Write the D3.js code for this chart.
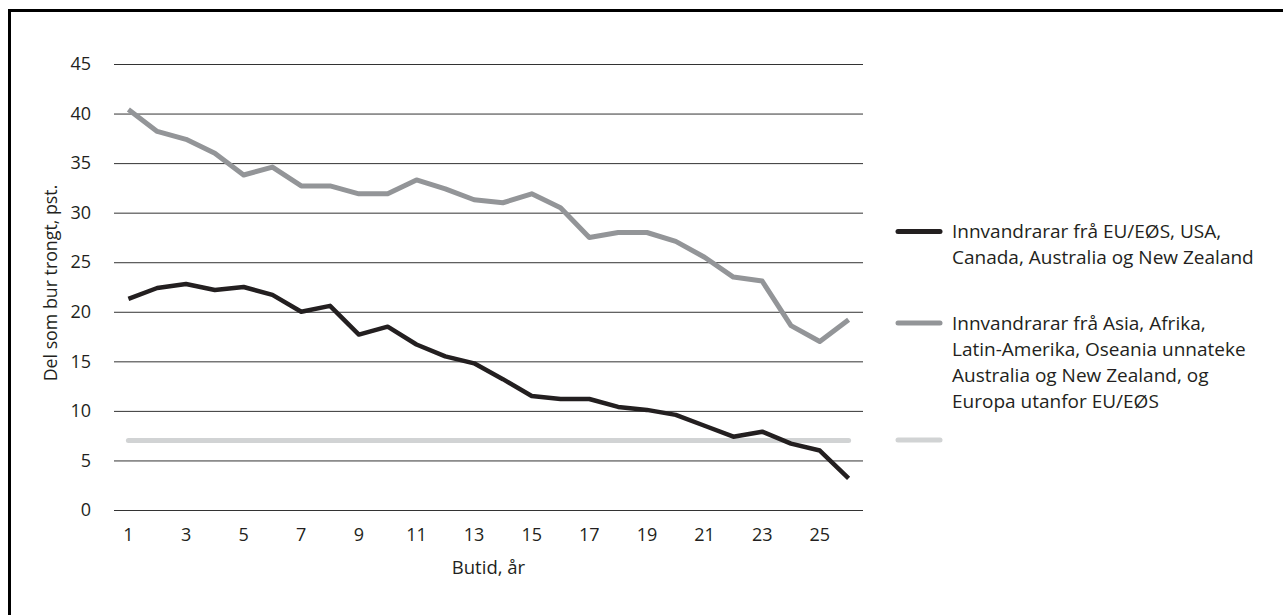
<!DOCTYPE html>
<html>
<head>
<meta charset="utf-8">
<script src="https://cdn.jsdelivr.net/npm/d3@7/dist/d3.min.js"></script>
<style>
  html, body { margin: 0; padding: 0; background: #fff; }
  svg { display: block; }
  text { font-family: "Open Sans", "Noto Sans", sans-serif; fill: #231f20; }
</style>
</head>
<body>
<svg id="chart" width="1283" height="615"></svg>
<script>
// ---- Data ----
const years = d3.range(1, 27); // Butid, år 1..26
const xTickLabels = [1, 3, 5, 7, 9, 11, 13, 15, 17, 19, 21, 23, 25];
const yTickLabels = [0, 5, 10, 15, 20, 25, 30, 35, 40, 45];

const seriesNames = [
  ["Innvandrarar frå EU/EØS, USA,", "Canada, Australia og New Zealand"],
  ["Innvandrarar frå Asia, Afrika,", "Latin-Amerika, Oseania unnateke", "Australia og New Zealand, og", "Europa utanfor EU/EØS"],
  []
];
const seriesColors = ["#231f20", "#939598", "#d1d3d4"];

const valuesEU = [21.3, 22.4, 22.8, 22.2, 22.5, 21.7, 20.0, 20.6, 17.7, 18.5,
                  16.7, 15.5, 14.8, 13.2, 11.5, 11.2, 11.2, 10.4, 10.1, 9.6,
                  8.5, 7.4, 7.9, 6.7, 6.0, 3.2];
const valuesAsia = [40.4, 38.2, 37.4, 36.0, 33.8, 34.6, 32.7, 32.7, 31.9, 31.9,
                    33.3, 32.4, 31.3, 31.0, 31.9, 30.5, 27.5, 28.0, 28.0, 27.1,
                    25.5, 23.5, 23.1, 18.6, 17.0, 19.2];
const valuesAll = [7.0, 7.0, 7.0, 7.0, 7.0, 7.0, 7.0, 7.0, 7.0, 7.0,
                   7.0, 7.0, 7.0, 7.0, 7.0, 7.0, 7.0, 7.0, 7.0, 7.0,
                   7.0, 7.0, 7.0, 7.0, 7.0, 7.0];

const allSeries = [valuesEU, valuesAsia, valuesAll];

// ---- Layout ----
const svg = d3.select("#chart");
const plot = { left: 114, right: 863, top: 64, bottom: 510 };

// Outer frame (cut off at right and bottom as in the reference)
svg.append("rect")
  .attr("x", 9.5).attr("y", 10.5)
  .attr("width", 1300).attr("height", 700)
  .attr("fill", "none").attr("stroke", "#000").attr("stroke-width", 3);

const x = d3.scaleBand().domain(years).range([plot.left, plot.right]);
const xc = d => x(d) + x.bandwidth() / 2;
const y = d3.scaleLinear().domain([0, 45]).range([plot.bottom, plot.top]);

// Gridlines + y labels
const yAxis = d3.axisLeft(y).tickValues(yTickLabels)
  .tickSize(-(plot.right - plot.left)).tickPadding(23);
const gy = svg.append("g").attr("transform", `translate(${plot.left},0)`).call(yAxis);
gy.select(".domain").remove();
gy.selectAll(".tick line").attr("stroke", "#333").attr("stroke-width", 1);
gy.selectAll(".tick text").attr("font-size", 18).style("font-family", '"Open Sans", sans-serif').attr("fill", "#231f20");

// x labels
const xAxis = d3.axisBottom(x).tickValues(xTickLabels).tickSize(0).tickPadding(18);
const gx = svg.append("g").attr("transform", `translate(0,${plot.bottom})`).call(xAxis);
gx.select(".domain").remove();
gx.selectAll(".tick text").attr("font-size", 18).style("font-family", '"Open Sans", sans-serif').attr("fill", "#231f20");

// Axis titles
svg.append("text")
  .attr("x", (plot.left + plot.right) / 2).attr("y", 574)
  .attr("text-anchor", "middle").attr("font-size", 18.5)
  .text("Butid, år");
svg.append("text")
  .attr("transform", `translate(56.5,${(plot.top + plot.bottom) / 2 - 4}) rotate(-90)`)
  .attr("text-anchor", "middle").attr("font-size", 17.8)
  .text("Del som bur trongt, pst.");

// Lines (draw light grey first, then grey, then black)
const line = d3.line().x((d, i) => xc(years[i])).y(d => y(d));
[2, 1, 0].forEach(k => {
  svg.append("path")
    .datum(allSeries[k])
    .attr("d", line)
    .attr("fill", "none")
    .attr("stroke", seriesColors[k])
    .attr("stroke-width", k === 0 ? 4.5 : 5)
    .attr("stroke-linejoin", "round")
    .attr("stroke-linecap", k === 2 ? "round" : "butt");
});

// Legend
const legendY = [231.5, 323, 440];
const lg = svg.append("g");
seriesNames.forEach((lines, k) => {
  lg.append("line")
    .attr("x1", 898).attr("x2", 940)
    .attr("y1", legendY[k]).attr("y2", legendY[k])
    .attr("stroke", seriesColors[k]).attr("stroke-width", 5)
    .attr("stroke-linecap", "round");
  lines.forEach((t, j) => {
    lg.append("text")
      .attr("x", 952).attr("y", legendY[k] + 6.5 + j * 26)
      .attr("font-size", 19)
      .text(t);
  });
});
</script>
</body>
</html>
